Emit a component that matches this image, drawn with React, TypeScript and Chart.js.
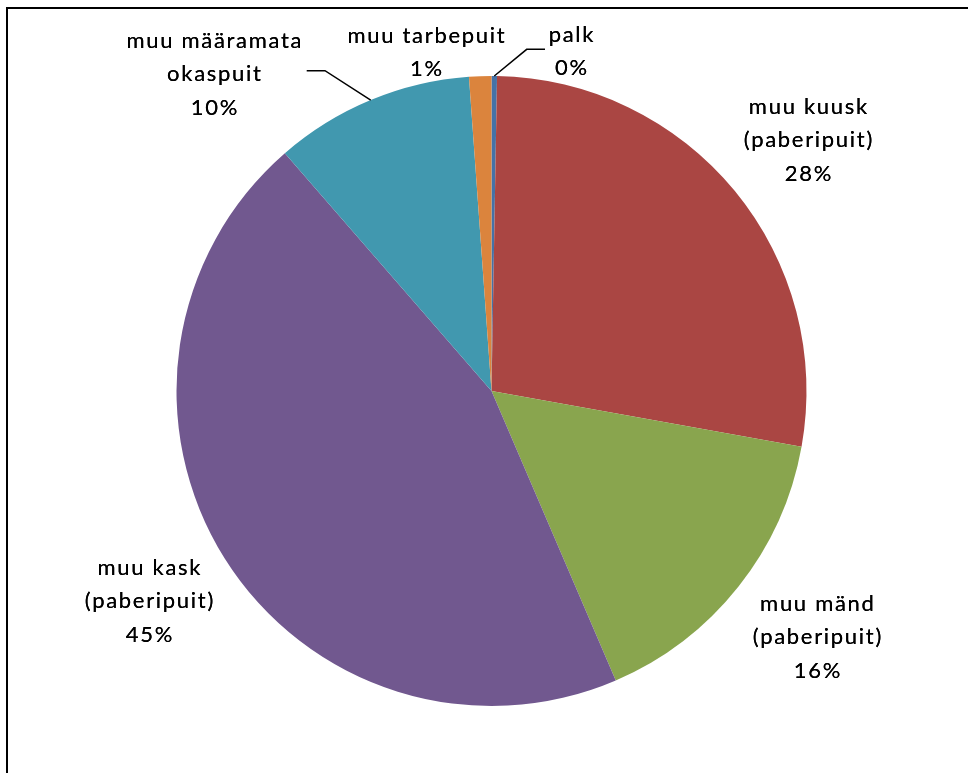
import React, { useEffect, useRef } from "react";
import { Chart, registerables } from "chart.js";

Chart.register(...registerables);

// ---- data ----
const categories = [
  "palk",
  "muu kuusk (paberipuit)",
  "muu mänd (paberipuit)",
  "muu kask (paberipuit)",
  "muu määramata okaspuit",
  "muu tarbepuit",
];
const labelLines = [
  ["palk"],
  ["muu kuusk", "(paberipuit)"],
  ["muu mänd", "(paberipuit)"],
  ["muu kask", "(paberipuit)"],
  ["muu määramata", "okaspuit"],
  ["muu tarbepuit"],
];
const values = [0.28, 27.55, 15.72, 45.07, 10.25, 1.14];
const colors = ["#4572A7", "#AA4643", "#89A54E", "#71588F", "#4198AF", "#DB843D"];

// ---- label placement (style): block centre offset from pie centre, in units of radius ----
const R0 = 315;
const labelPos: [number, number][] = [
  [79.5 / R0, -339.5 / R0],
  [316.5 / R0, -251 / R0],
  [325.5 / R0, 246 / R0],
  [-342.5 / R0, 210 / R0],
  [-277.5 / R0, -317 / R0],
  [-65.5 / R0, -338.5 / R0],
];
// leader lines: [elbow dx, elbow dy, end dx, end dy] relative to label centre (px)
const leaders: (number[] | null)[] = [
  [-44.3, -2.2, -26, -2.2],
  null,
  null,
  null,
  [111, -3.3, 92.7, -3.3],
  null,
];
const LINE_H = 33.5;
const FONT = "22px Lato";

const labelPlugin = {
  id: "pieLabels",
  afterDraw(chart: any) {
    const ctx = chart.ctx as CanvasRenderingContext2D;
    const meta = chart.getDatasetMeta(0);
    const total = values.reduce((a, b) => a + b, 0);
    ctx.save();
    ctx.font = FONT;
    try {
      (ctx as any).letterSpacing = "1.7px";
    } catch (e) {}
    ctx.fillStyle = "#000";
    ctx.textAlign = "center";
    ctx.textBaseline = "middle";
    meta.data.forEach((arc: any, i: number) => {
      const { x, y, outerRadius, startAngle, endAngle } = arc.getProps(
        ["x", "y", "outerRadius", "startAngle", "endAngle"],
        true
      );
      const cx = x + labelPos[i][0] * outerRadius;
      const cy = y + labelPos[i][1] * outerRadius;
      const lines = [...labelLines[i], Math.round((values[i] / total) * 100) + "%"];
      const top = cy - ((lines.length - 1) * LINE_H) / 2;
      lines.forEach((t, k) => {
        ctx.fillText(t, cx + 0.85, top + k * LINE_H);
        ctx.fillText(t, cx + 0.85, top + k * LINE_H);
      });
      const ld = leaders[i];
      if (ld) {
        const mid = (startAngle + endAngle) / 2;
        const sx = x + Math.cos(mid) * outerRadius;
        const sy = y + Math.sin(mid) * outerRadius;
        ctx.beginPath();
        ctx.strokeStyle = "#000";
        ctx.lineWidth = 1.5;
        ctx.moveTo(sx, sy);
        ctx.lineTo(cx + ld[0], cy + ld[1]);
        ctx.lineTo(cx + ld[2], cy + ld[3]);
        ctx.stroke();
      }
    });
    ctx.restore();
  },
};

export default function App() {
  const ref = useRef<HTMLCanvasElement | null>(null);
  useEffect(() => {
    if (!ref.current) return;
    const chart = new Chart(ref.current, {
      type: "pie",
      data: {
        labels: categories,
        datasets: [
          {
            data: values,
            backgroundColor: colors,
            borderWidth: 0,
          },
        ],
      },
      options: {
        responsive: false,
        animation: false,
        devicePixelRatio: 1,
        layout: { padding: { left: 176.5, right: 161.5, top: 76, bottom: 67 } },
        plugins: {
          legend: { display: false },
          tooltip: { enabled: false },
        },
      },
      plugins: [labelPlugin],
    });
    return () => chart.destroy();
  }, []);
  return (
    <div
      style={{
        position: "fixed",
        left: 0,
        top: 0,
        width: 968,
        height: 773,
        background: "#fff",
        overflow: "hidden",
      }}
    >
      <canvas ref={ref} width={968} height={773} style={{ display: "block" }} />
      <div
        style={{
          position: "absolute",
          left: 6,
          top: 7,
          width: 1000,
          height: 1000,
          borderLeft: "2px solid #000",
          borderTop: "2px solid #000",
          pointerEvents: "none",
        }}
      />
    </div>
  );
}
